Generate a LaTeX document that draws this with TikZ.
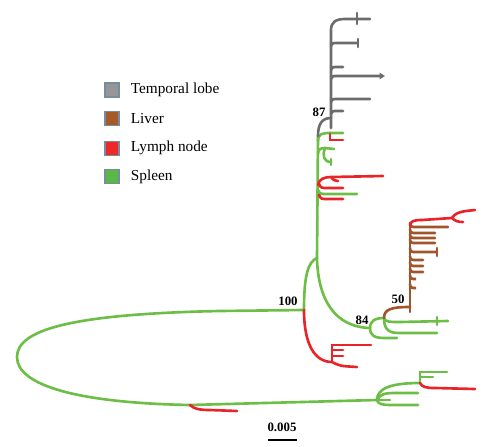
\documentclass[tikz,border=0pt]{standalone}
\usepackage{fontspec}
\setmainfont{Liberation Serif}
\usetikzlibrary{arrows.meta,positioning}

\definecolor{tlgrey}{RGB}{108,108,110}
\definecolor{livbrown}{RGB}{160,86,44}
\definecolor{lymred}{RGB}{232,36,40}
\definecolor{splgreen}{RGB}{108,190,70}
\definecolor{keyedge}{RGB}{120,140,160}

\tikzset{
	branch/.style={line width=1.5pt, line cap=round},
	tlobe/.style={branch, draw=tlgrey},
	liver/.style={branch, draw=livbrown},
	lymph/.style={branch, draw=lymred},
	spleen/.style={branch, draw=splgreen},
	boot/.style={font=\fontsize{7.3}{8}\selectfont\bfseries, inner sep=0pt},
	keybox/.style={draw=keyedge, line width=0.6pt, minimum size=0.28cm, inner sep=0pt},
	keytext/.style={font=\fontsize{8.7}{10}\selectfont, inner sep=0pt, anchor=west},
}

\begin{document}
\begin{tikzpicture}[x=0.02cm, y=-0.02cm]
	\useasboundingbox (0,0) rectangle (500,446);

	% inner nodes of the tree
	\coordinate (n100) at (304,310);
	\coordinate (nup) at (317,258);
	\coordinate (ntop) at (318,136);
	\coordinate (n87) at (331,118);
	\coordinate (n84) at (370,328);
	\coordinate (n84u) at (384,318);
	\coordinate (n50) at (410,307);
	\coordinate (nred) at (332,362);
	\coordinate (nout) at (190,405);
	\coordinate (nlow) at (377,400);
	\coordinate (nlowu) at (420,383);
	\coordinate (nliv) at (452,218);

	% legend
	\node[keybox, fill={rgb,255:red,150;green,150;blue,152}] (kTL) at (112,90) {};
	\node[keybox, fill={rgb,255:red,165;green,90;blue,40}, below=0.27cm of kTL] (kLI) {};
	\node[keybox, fill={rgb,255:red,236;green,40;blue,40}, below=0.29cm of kLI] (kLN) {};
	\node[keybox, fill={rgb,255:red,90;green,185;blue,70}, below=0.27cm of kLN] (kSP) {};
	\node[keytext, right=0.22cm of kTL] (tTL) {Temporal lobe};
	\node[keytext, right=0.22cm of kLI] (tLI) {Liver};
	\node[keytext, right=0.22cm of kLN] (tLN) {Lymph node};
	\node[keytext, right=0.22cm of kSP] (tSP) {Spleen};

	% outgroup loop
	\draw[spleen] (n100) -- (220,311) .. controls (70,314) and (17,330) .. (17,357)
		.. controls (17,386) and (80,403) .. (nout) -- (nlow);
	\draw[lymph] (nout) .. controls (194,409) and (200,410) .. (210,410) -- (237,411);

	% lower clade
	\draw[spleen] (nlow) .. controls (377,388) and (392,383) .. (nlowu);
	\draw[spleen] (nlow) .. controls (378,404) and (382,405) .. (392,405) -- (418,405);
	\draw[spleen] (nlow) .. controls (380,394) and (385,393) .. (395,393) -- (418,393);
	\draw[spleen] (nlow) -- (390,400);
	\draw[spleen] (nlowu) -- (420,372) -- (447,372);
	\draw[spleen] (420,377) -- (433,377);
	\draw[lymph] (nlowu) .. controls (422,387) and (426,388) .. (435,388) -- (475,389);

	% node 100
	\draw[spleen] (n100) .. controls (304,275) and (308,262) .. (nup);
	\draw[lymph] (n100) .. controls (304,345) and (315,362) .. (nred)
		.. controls (340,366) .. (357,367);
	\draw[lymph] (nred) -- (332,345) -- (371,345);
	\draw[lymph] (332,350) -- (343,350);
	\draw[lymph] (332,356) -- (343,356);

	% main stem
	\draw[spleen] (nup) -- (ntop);
	\draw[spleen] (318,141) .. controls (318,134) and (322,133) .. (330,133) -- (343,133);
	\draw[lymph] (330,134) -- (330,140) -- (343,140);
	\draw[spleen] (318,154) .. controls (318,149) and (321,148) .. (325,148) -- (334,149);
	\draw[spleen] (325,148) .. controls (322,156) and (324,162) .. (331,162);
	\draw[spleen] (331,159) -- (331,165);
	\draw[lymph] (318,185) .. controls (319,179) and (324,177) .. (332,177) -- (383,176);
	\draw[lymph] (331,177) .. controls (333,180) .. (338,181);
	\draw[lymph] (319,184) .. controls (321,188) .. (328,188) -- (343,188);
	\draw[spleen] (318,190) .. controls (320,194) .. (328,194) -- (357,194);
	\draw[lymph] (319,195) .. controls (321,199) .. (328,199) -- (343,199);

	% temporal lobe clade
	\draw[tlobe] (ntop) .. controls (318,124) and (322,118) .. (n87);
	\draw[tlobe] (331,128) -- (331,30) .. controls (331,22) and (336,19) .. (345,19) -- (370,19);
	\draw[tlobe] (357,13) -- (357,24);
	\foreach \y/\e in {43/358,67/343,99/370,111/343}
		\draw[tlobe] (331,\y+3) .. controls (331,\y) and (333,\y) .. (338,\y) -- (\e,\y);
	\draw[tlobe, -{Triangle[length=3pt,width=3.5pt]}] (331,79) .. controls (331,76) and (333,76) .. (338,76) -- (385,76);
	\draw[tlobe] (358,39) -- (358,47);

	% node 84
	\draw[spleen] (nup) .. controls (318,300) and (335,327) .. (n84);
	\draw[spleen] (n84) .. controls (370,321) and (375,318) .. (n84u);
	\draw[spleen] (n84) .. controls (370,336) and (375,338) .. (385,338) -- (397,338);
	\draw[spleen] (n84u) .. controls (385,322) and (390,322) .. (400,322) -- (448,321);
	\draw[spleen] (437,317) -- (437,325);
	\draw[spleen] (n84u) .. controls (384,331) and (390,333) .. (400,333) -- (437,333);

	% liver clade
	\draw[liver] (n84u) .. controls (384,309) and (392,307) .. (n50);
	\draw[liver] (410,312) -- (410,224);
	\foreach \y/\e in {227/448,233/435,238/435,243/435,252/437,260/423,266/423,272/423,279/413,288/413}
		\draw[liver] (410,\y-4) .. controls (410,\y) and (412,\y) .. (416,\y) -- (\e,\y);
	\draw[liver] (437,248) -- (437,256);
	\draw[lymph] (410,226) .. controls (410,221) and (414,220) .. (422,220) -- (nliv);
	\draw[lymph] (nliv) .. controls (455,213) and (460,212) .. (466,211) -- (475,210);
	\draw[lymph] (nliv) .. controls (455,221) and (458,222) .. (463,222);

	% bootstrap values
	\node[boot] (b87) at (319,112) {87};
	\node[boot] (b100) at (288,301) {100};
	\node[boot] (b84) at (362,320) {84};
	\node[boot] (b50) at (398,299) {50};

	% scale bar
	\node[boot] (sclab) at (282,427) {0.005};
	\coordinate (sbl) at (268,440);
	\coordinate (sbr) at (297,440);
	\draw[line width=1.5pt] (sbl) -- (sbr);
\end{tikzpicture}
\end{document}
